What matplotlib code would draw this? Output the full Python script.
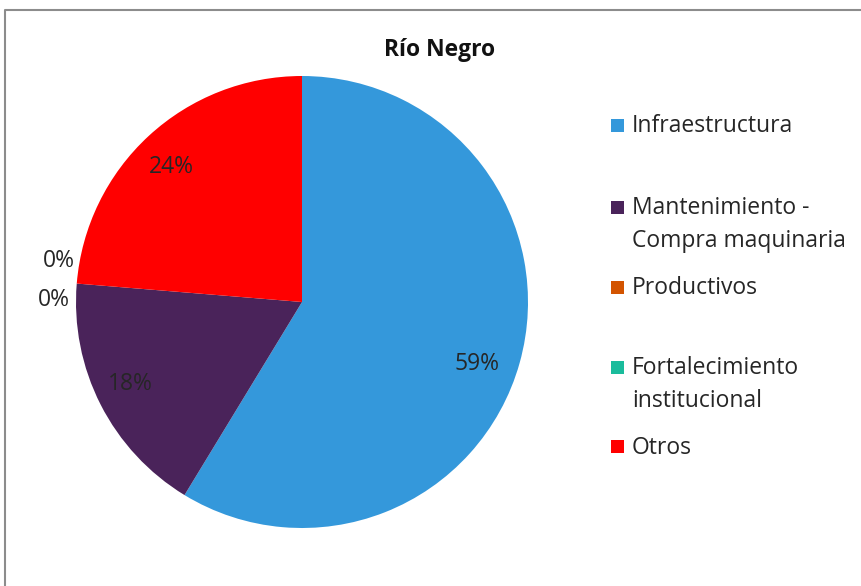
import matplotlib
matplotlib.use("Agg")
import matplotlib.pyplot as plt
import numpy as np
from matplotlib.patches import Rectangle
from matplotlib.lines import Line2D

title = "Río Negro"
categories = ["Infraestructura", "Mantenimiento -\nCompra maquinaria", "Productivos",
              "Fortalecimiento\ninstitucional", "Otros"]
values = [58.7, 17.6, 0.0, 0.0, 23.7]
pct_labels = ["59%", "18%", "0%", "0%", "24%"]
colors = ["#3498DB", "#4A235A", "#D35400", "#1ABC9C", "#FF0000"]

W, H = 861, 586
fig = plt.figure(figsize=(W / 100, H / 100), dpi=100)
ax = fig.add_axes([0, 0, 1, 1])

font = "Open Sans"
fs = 16.5
cx, cy, R = 302, H - 302, 226
wedges, _ = ax.pie(values, colors=colors, startangle=90, counterclock=False,
                   center=(cx, cy), radius=R, wedgeprops=dict(linewidth=0),
                   normalize=True, frame=True)
ax.set_xlim(0, W)
ax.set_ylim(0, H)
ax.set_aspect("equal")
ax.axis("off")

# percentage labels (angle offset in degrees, radial factor) per slice
label_adjust = [(-4.0, 0.82), (-1.5, 0.84), (4.2, 1.1), (-5.0, 1.09), (1.4, 0.83)]
for w, v, lab, (dang, rf) in zip(wedges, values, pct_labels, label_adjust):
    mid = 0.5 * (w.theta1 + w.theta2)
    ang = np.deg2rad(mid + dang)
    r = rf * R
    ax.text(cx + r * np.cos(ang), cy + r * np.sin(ang), lab, ha="center", va="center",
            fontsize=fs, family=font, color="#262626")

# title
ax.text(440, H - 50, title, ha="center", va="center", fontsize=16.5, fontweight="bold",
        family=font, color="#111111")

# legend (first-line y positions)
leg_y = [125, 207, 287, 367, 446]
for c, name, y in zip(colors, categories, leg_y):
    ax.add_patch(Rectangle((611, H - y - 6.5), 13, 13, facecolor=c, edgecolor="none"))
    ax.text(632, H - y + 10.5, name, ha="left", va="top", fontsize=fs, family=font,
            color="#262626", linespacing=1.45)

# chart border
ax.add_line(Line2D([5, 5, W], [0, H - 10, H - 10], color="#8c8c8c", linewidth=1.5))

fig.savefig("out.png", dpi=100)
